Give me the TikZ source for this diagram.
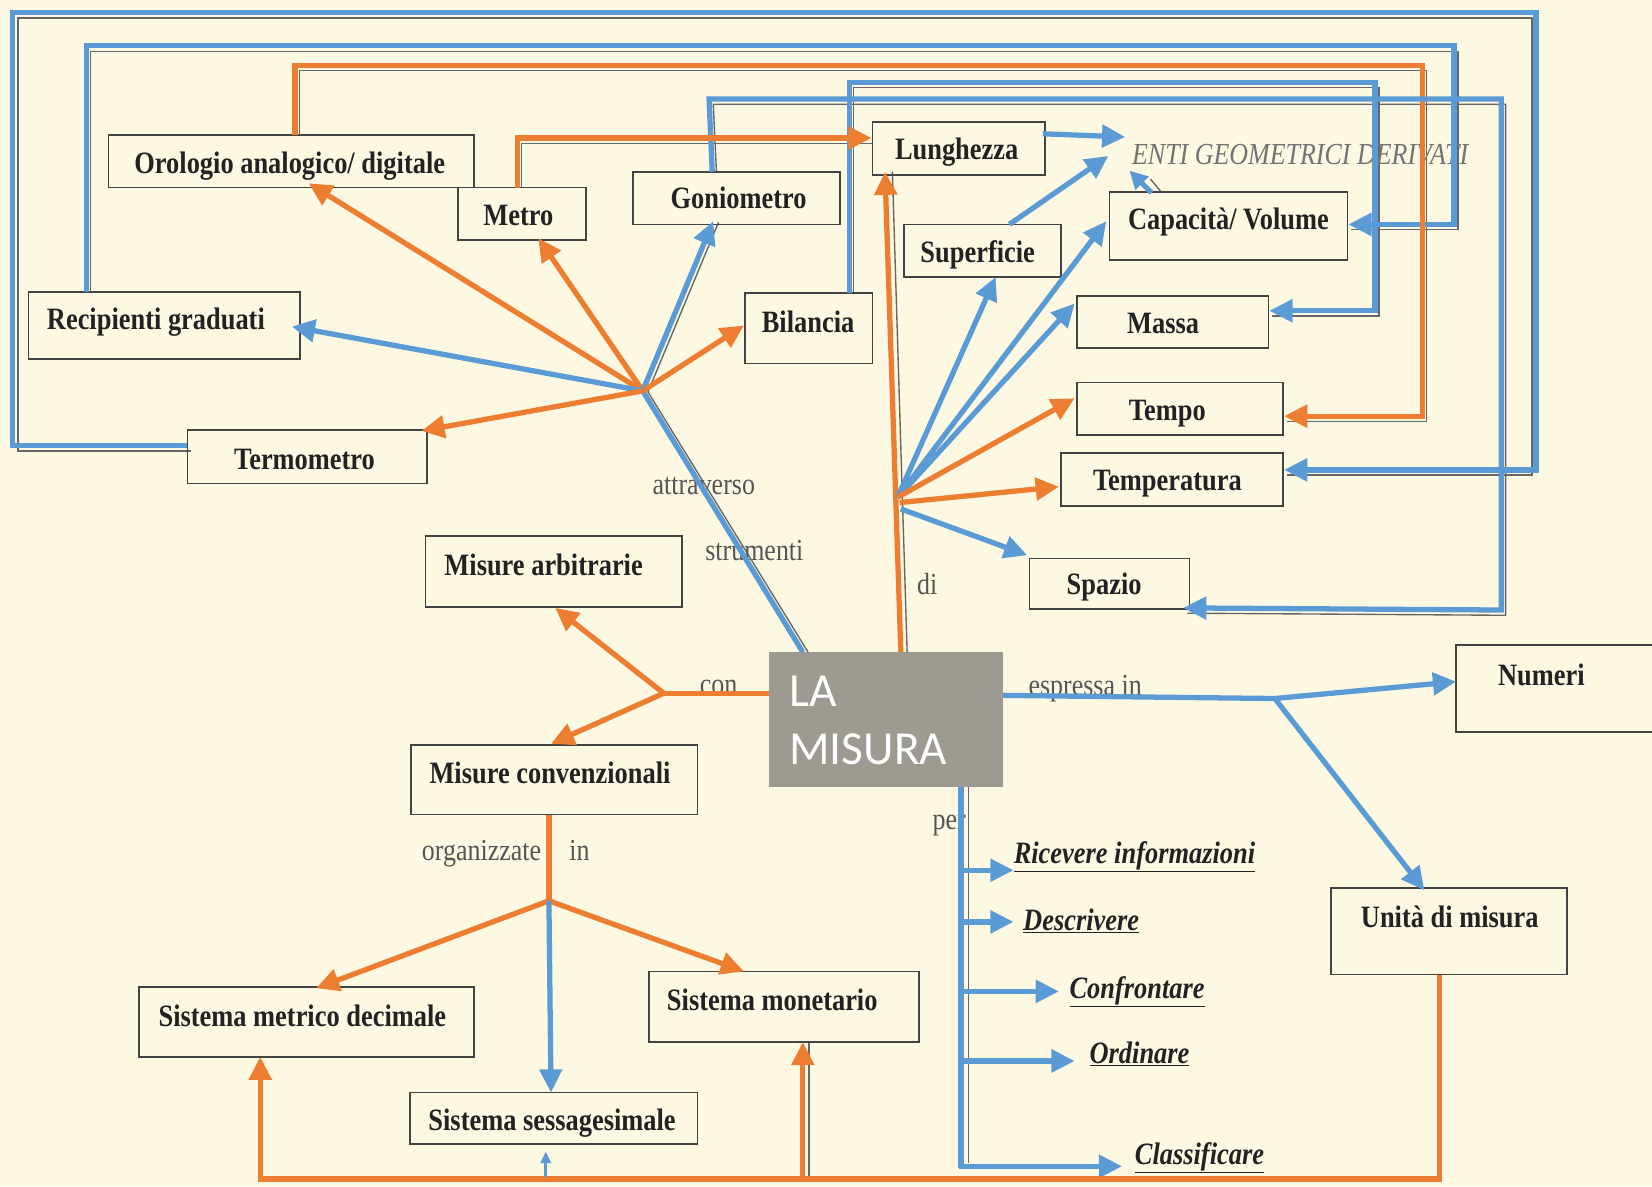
\documentclass[tikz,border=0pt]{standalone}
\usepackage{fontspec}
\setmainfont{Liberation Serif}[FakeStretch=0.85]
\newfontfamily\lafont{Carlito}
\usetikzlibrary{arrows.meta,fit}
\definecolor{bg}{HTML}{FCF8E2}
\definecolor{bl}{HTML}{5B9BD5}
\definecolor{og}{HTML}{ED7D31}
\definecolor{lagray}{HTML}{9D9A92}
\definecolor{ink}{HTML}{222222}
\definecolor{lbl}{HTML}{555555}
\tikzset{
 box/.style={draw=ink!85, line width=1.6pt, inner sep=0pt},
 btxt/.style={font=\fontsize{29.5}{34}\selectfont\bfseries, text=ink, inner sep=0pt, anchor=mid},
 lbltxt/.style={font=\fontsize{29}{34}\selectfont, text=lbl, inner sep=0pt, anchor=mid},
 entitxt/.style={font=\fontsize{29}{34}\selectfont\itshape, text=black!55, inner sep=0pt, anchor=mid},
 verb/.style={font=\fontsize{29.5}{34}\selectfont\bfseries\itshape, text=ink, inner sep=0pt, anchor=mid west},
 bline/.style={draw=bl, line width=5pt},
 oline/.style={draw=og, line width=5pt},
 barr/.style={bline, -{Triangle[length=22pt,width=21pt]}},
 oarr/.style={oline, -{Triangle[length=22pt,width=21pt]}},
 orig/.style={draw=black!60, line width=1.3pt},
}
\begin{document}
\begin{tikzpicture}[x=1pt,y=-1pt]
\useasboundingbox (0,0) rectangle (1568,1126);
\fill[bg] (0,0) rectangle (1568,1126);
\clip (0,0) rectangle (1568,1126);

% ---------- coordinates ----------
\coordinate (hA) at (610,371);
\coordinate (hB) at (852,472);
\coordinate (hC) at (630,658);
\coordinate (hD) at (521,855);
\coordinate (hE) at (1210,663);

% ---------- original (scan) thin lines ----------
\draw[orig] (181,428) -- (17,428) -- (17,17) -- (1454,17) -- (1454,451) -- (1222,451);
\draw[orig] (86,277) -- (86,49) -- (1384,49) -- (1384,218) -- (1282,218);
\draw[orig] (284,128) -- (284,67) -- (1354,67) -- (1354,400) -- (1222,400);
\draw[orig] (810,278) -- (810,83) -- (1309,83) -- (1309,300) -- (1207,300);
\draw[orig] (680,163) -- (677,99) -- (1429,99) -- (1429,584) -- (1127,582);
\draw[orig] (495,178) -- (495,136) -- (828,136);
\draw[orig] (767,619) -- (615,372) -- (682,211);
\draw[orig] (861,619) -- (847,163);
\draw[orig] (919,747) -- (919,1104);
\draw[orig] (768,1119) -- (768,990);
\draw[orig] (1092,170) -- (1102,182);

% ---------- boxes ----------
\node[box, fit={(103,128) (450,178)}] (orol) {};
\node[box, fit={(435,178) (556,228)}] (metro) {};
\node[box, fit={(601,163) (797,213)}] (gonio) {};
\node[box, fit={(828,116) (992,166)}] (lungh) {};
\node[box, fit={(1053,182) (1279,247)}] (capac) {};
\node[box, fit={(858,213) (1007,263)}] (superf) {};
\node[box, fit={(27,277) (285,341)}] (recip) {};
\node[box, fit={(707,278) (828,345)}] (bilan) {};
\node[box, fit={(1022,281) (1204,330)}] (massa) {};
\node[box, fit={(1022,363) (1218,413)}] (tempo) {};
\node[box, fit={(178,408) (405,459)}] (termo) {};
\node[box, fit={(1007,430) (1218,480)}] (tempe) {};
\node[box, fit={(977,530) (1129,578)}] (spazio) {};
\node[box, fit={(404,509) (647,576)}] (arbitr) {};
\node[box, fit={(390,707) (662,773)}] (conven) {};
\node[box, fit={(1382,612) (1590,695)}] (numeri) {};
\node[box, fit={(1263,843) (1487,925)}] (unita) {};
\node[box, fit={(132,937) (450,1003)}] (metric) {};
\node[box, fit={(616,922) (872,989)}] (monet) {};
\node[box, fit={(389,1037) (662,1086)}] (sessag) {};

% ---------- box texts ----------
\node[btxt] (tOrol) at (275,162) {Orologio analogico/ digitale};
\node[btxt] (tMetro) at (492,212) {Metro};
\node[btxt] (tGonio) at (701,196) {Goniometro};
\node[btxt] (tLungh) at (908,149) {Lunghezza};
\node[btxt] (tCapac) at (1166,216) {Capacità/ Volume};
\node[btxt] (tSuperf) at (928,247) {Superficie};
\node[btxt] (tRecip) at (148,310) {Recipienti graduati};
\node[btxt] (tBilan) at (767,313) {Bilancia};
\node[btxt] (tMassa) at (1104,314) {Massa};
\node[btxt] (tTempo) at (1108,397) {Tempo};
\node[btxt] (tTermo) at (289,443) {Termometro};
\node[btxt] (tTempe) at (1108,463) {Temperatura};
\node[btxt] (tSpazio) at (1048,562) {Spazio};
\node[btxt] (tArbitr) at (516,544) {Misure arbitrarie};
\node[btxt] (tConven) at (522,741) {Misure convenzionali};
\node[btxt] (tNumeri) at (1463,648) {Numeri};
\node[btxt] (tUnita) at (1376,878) {Unità di misura};
\node[btxt] (tMetric) at (287,972) {Sistema metrico decimale};
\node[btxt] (tMonet) at (733,957) {Sistema monetario};
\node[btxt] (tSessag) at (524,1071) {Sistema sessagesimale};
\node[entitxt] (enti) at (1234,154) {ENTI GEOMETRICI DERIVATI};

% ---------- verbs ----------
\node[verb] (ricev) at (962,817) {\underline{Ricevere informazioni}};
\node[verb] (descr) at (971,881) {\underline{Descrivere}};
\node[verb] (confr) at (1015,945) {\underline{Confrontare}};
\node[verb] (ordin) at (1034,1007) {\underline{Ordinare}};
\node[verb] (class) at (1077,1103) {\underline{Classificare}};

% ---------- link labels ----------
\node[lbltxt] (lAttr) at (668,467) {attraverso};
\node[lbltxt] (lStrum) at (716,530) {strumenti};
\node[lbltxt] (lDi) at (880,562) {di};
\node[lbltxt] (lCon) at (682,657) {con};
\node[lbltxt] (lEspr) at (1030,658) {espressa in};
\node[lbltxt] (lPer) at (901,785) {per};
\node[lbltxt] (lOrg) at (457,814) {organizzate};
\node[lbltxt] (lIn) at (550,814) {in};

% ---------- long routes ----------
\draw[barr] (termo.west |- 0,423) -- (12,423) -- (12,12) -- (1458,12) -- (1458,446) -- (tempe.east |- 0,446);
\draw[barr] (82,277) -- (82,43) -- (1380,43) -- (1380,213) -- (capac.east |- 0,213);
\draw[oarr] (280,128) -- (280,62) -- (1350,62) -- (1350,395) -- (tempo.east |- 0,395);
\draw[barr] (806,278) -- (806,78) -- (1305,78) -- (1305,295) -- (massa.east |- 0,295);
\draw[barr] (676,163) -- (673,94) -- (1425,94) -- (1425,579) -- (1123,577);
\draw[oarr] (491,178) -- (491,131) -- (lungh.west |- 0,131);

% ---------- instruments hub ----------
\draw[bline] (762,619) -- (hA);
\draw[oarr] (hA) -- (293,174);
\draw[oarr] (hA) -- (511,226);
\draw[barr] (hA) -- (677,210);
\draw[oarr] (hA) -- (706,309);
\draw[barr] (hA) -- (277,310);
\draw[oarr] (hA) -- (400,409);

% ---------- "di" hub ----------
\draw[oarr] (855,619) -- (840,163);
\draw[barr] (hB) -- (945,263);
\draw[barr] (hB) -- (1050,210);
\draw[barr] (hB) -- (1020,288);
\draw[oarr] (hB) -- (1020,378);
\draw[oarr] (hB) ++(2,5) -- (1005,462);
\draw[barr] (hB) ++(3,11) -- (975,527);

\draw[barr] (958,213) -- (1052,148);
\draw[barr] (990,127) -- (1068,130);
\draw[bline, -{Triangle[length=17pt,width=17pt]}] (1093,183) -- (1072,162);

% ---------- "con" hub ----------
\draw[oline] (730,658) -- (hC);
\draw[oarr] (hC) -- (527,577);
\draw[oarr] (hC) -- (523,706);

% ---------- organizzate in ----------
\draw[oline] (conven.south -| hD) -- (hD);
\draw[oarr] (hD) -- (300,938);
\draw[oarr] (hD) -- (706,922);
\draw[barr] (hD) -- (523,1037);

% ---------- espressa in ----------
\draw[bline] (952,660) -- (hE);
\draw[barr] (hE) -- (1382,647);
\draw[barr] (hE) -- (1352,845);

% ---------- per ----------
\draw[bline] (912,747) -- (912,1109);
\draw[barr] (912,826) -- (962,826);
\draw[barr] (912,875) -- (962,875);
\draw[barr] (912,941) -- (1005,941);
\draw[barr] (912,1007) -- (1020,1007);
\draw[barr] (910,1107) -- (1065,1107);

% ---------- bottom ----------
\draw[oarr] (1366,925) -- (1366,1119) -- (247,1119) -- (247,1003);
\draw[oarr] (762,1119) -- (762,989);
\draw[draw=bl, line width=2.5pt, -{Triangle[length=11pt,width=10pt]}] (518,1117) -- (518,1093);

% ---------- centre ----------
\node[fill=lagray, inner sep=0pt, fit={(730,619) (952,747)}] (lamis) {};
\node[font=\lafont\fontsize{45}{55}\selectfont, text=white, anchor=base west, inner sep=0pt] (tLA) at (749,671) {LA};
\node[font=\lafont\fontsize{45}{55}\selectfont, text=white, anchor=base west, inner sep=0pt] (tMis) at (749,726) {MISURA};
\end{tikzpicture}
\end{document}
